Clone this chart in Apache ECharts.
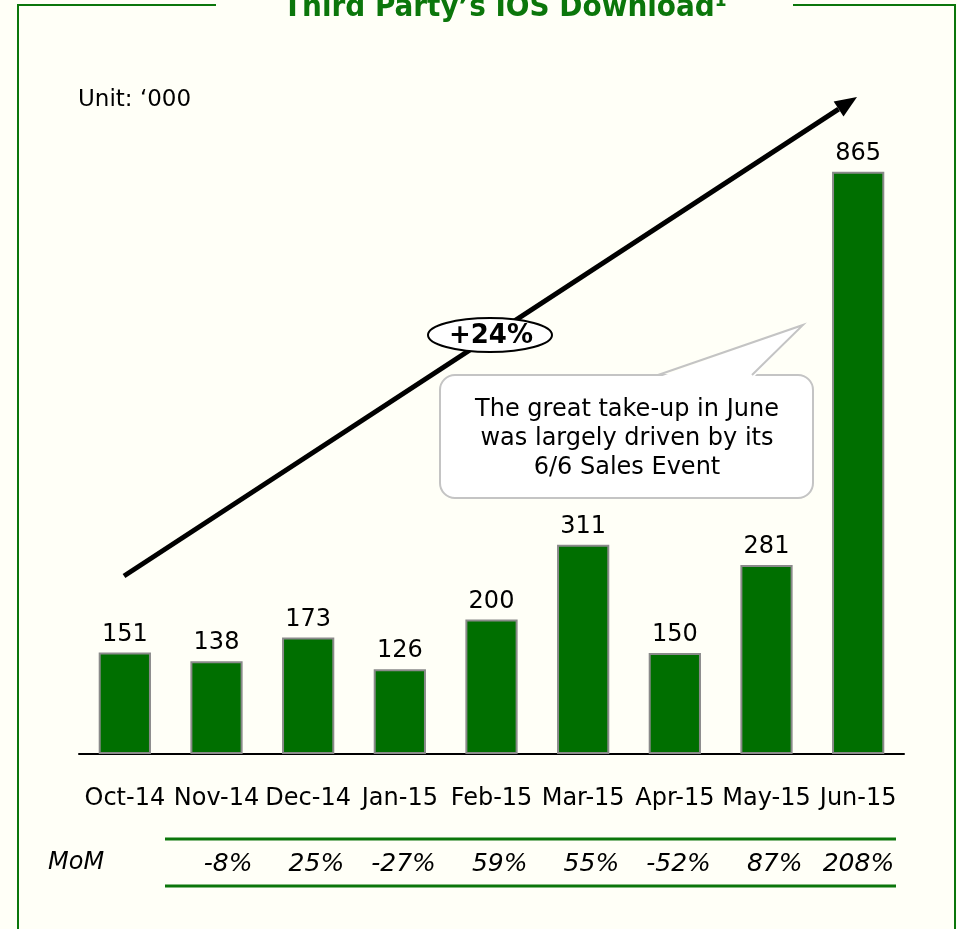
<!DOCTYPE html>
<html><head><meta charset="utf-8">
<script src="https://cdn.jsdelivr.net/npm/echarts@6/dist/echarts.min.js"></script>
<style>html,body{margin:0;padding:0;background:#FFFFF7;}#c{width:957px;height:929px;}</style>
</head><body><div id="c"></div>
<script>
const categories = ['Oct-14','Nov-14','Dec-14','Jan-15','Feb-15','Mar-15','Apr-15','May-15','Jun-15'];
const downloads = [151, 138, 173, 126, 200, 311, 150, 281, 865];
const momLabels = ['', '-8%', '25%', '-27%', '59%', '55%', '-52%', '87%', '208%'];

const FONT = "'DejaVu Sans', 'Liberation Sans', sans-serif";
const TFONT = "'DejaVu Sans Condensed', 'DejaVu Sans', sans-serif";
const GREEN = '#0b760b';
const chart = echarts.init(document.getElementById('c'), null, {renderer:'canvas'});

// arrow geometry
const ax0 = 124, ay0 = 576, ax1 = 857, ay1 = 97;
const ang = Math.atan2(ay1 - ay0, ax1 - ax0);
const hl = 22, hw = 9;
const bx = ax1 - hl*Math.cos(ang), by = ay1 - hl*Math.sin(ang);
const head = [[ax1, ay1],
  [bx + hw*Math.sin(ang), by - hw*Math.cos(ang)],
  [bx - hw*Math.sin(ang), by + hw*Math.cos(ang)]];

chart.setOption({
  backgroundColor: '#FFFFF7',
  animation: false,
  textStyle: {fontFamily: FONT},
  grid: [
    {left: 79, right: 53, top: 81, bottom: 175},
    {left: 115, right: 17, top: 81, bottom: 175}
  ],
  xAxis: [{
    type: 'category', data: categories, gridIndex: 0,
    axisLine: {lineStyle: {color: '#000', width: 2}},
    axisTick: {show: false},
    axisLabel: {color: '#000', fontSize: 24, margin: 33, fontFamily: FONT, interval: 0}
  }, {
    type: 'category', data: momLabels, gridIndex: 1, position: 'bottom', offset: 98,
    axisLine: {show: false}, axisTick: {show: false},
    axisLabel: {color: '#000', fontSize: 25, fontStyle: 'italic', align: 'right', margin: 0, fontFamily: FONT, interval: 0}
  }],
  yAxis: [{type: 'value', min: 0, max: 1000, show: false, gridIndex: 0},
          {type: 'value', min: 0, max: 1000, show: false, gridIndex: 1}],
  series: [{
    type: 'bar', data: downloads, barWidth: '57%',
    itemStyle: {color: '#006F00', borderColor: '#8a8a8a', borderWidth: 2},
    label: {show: true, position: 'top', distance: 6, color: '#000', fontSize: 24, fontFamily: FONT}
  }],
  graphic: [
    // frame
    {type: 'polyline', shape: {points: [[216, 5], [18, 5], [18, 929]]}, style: {stroke: GREEN, lineWidth: 2, fill: null}},
    {type: 'polyline', shape: {points: [[793, 5], [955, 5], [955, 929]]}, style: {stroke: GREEN, lineWidth: 2, fill: null}},
    {type: 'text', style: {text: 'Third Party\u2019s IOS Download\u00b9', x: 505, y: 8, fill: GREEN, font: "bold 31px " + TFONT, textAlign: 'center', textVerticalAlign: 'middle'}},
    {type: 'text', style: {text: 'Unit: \u2018000', x: 78, y: 100, fill: '#000', font: "23px " + FONT, textVerticalAlign: 'middle'}},
    // arrow
    {type: 'line', shape: {x1: ax0, y1: ay0, x2: bx, y2: by}, style: {stroke: '#000', lineWidth: 5}},
    {type: 'polygon', shape: {points: head}, style: {fill: '#000'}},
    // +24% ellipse
    {type: 'ellipse', shape: {cx: 490, cy: 335, rx: 62, ry: 17}, style: {fill: '#fff', stroke: '#000', lineWidth: 2}, z: 10},
    {type: 'text', z: 11, style: {text: '+24%', x: 491, y: 336, fill: '#000', font: "bold 26px " + FONT, textAlign: 'center', textVerticalAlign: 'middle'}},
    // callout
    {type: 'rect', z: 10, shape: {x: 440, y: 375, width: 373, height: 123, r: 15}, style: {fill: '#fff', stroke: '#c4c4c4', lineWidth: 2}},
    {type: 'polygon', z: 11, shape: {points: [[657, 378], [803, 325], [753, 378]]}, style: {fill: '#fff'}},
    {type: 'polyline', z: 12, shape: {points: [[658, 375], [803, 325], [752, 375]]}, style: {stroke: '#c4c4c4', lineWidth: 2, fill: null}},
    {type: 'text', z: 13, style: {text: 'The great take-up in June\nwas largely driven by its\n6/6 Sales Event', x: 627, y: 439, fill: '#000', font: "24px " + FONT, textAlign: 'center', textVerticalAlign: 'middle', lineHeight: 29}},
    // MoM row
    {type: 'line', shape: {x1: 165, y1: 839, x2: 896, y2: 839}, style: {stroke: GREEN, lineWidth: 3}},
    {type: 'line', shape: {x1: 165, y1: 886, x2: 896, y2: 886}, style: {stroke: GREEN, lineWidth: 3}},
    {type: 'text', style: {text: 'MoM', x: 48, y: 863, fill: '#000', font: "italic 24px " + FONT, textVerticalAlign: 'middle'}}
  ]
});
</script></body></html>
